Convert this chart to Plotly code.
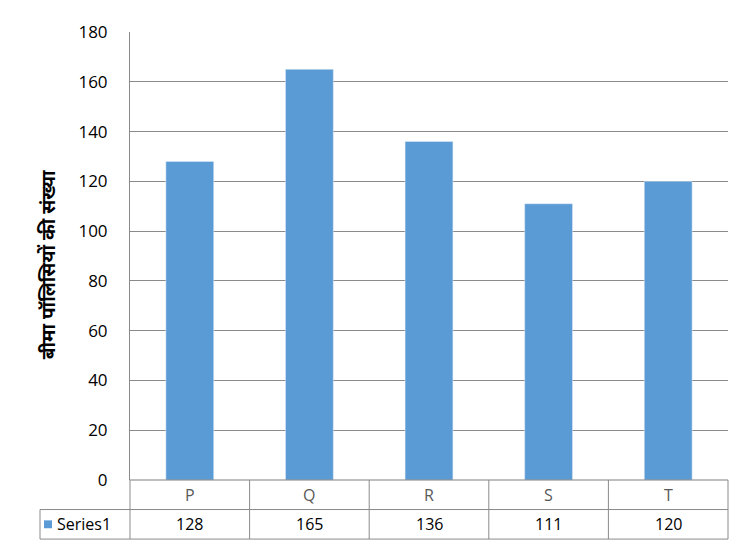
import plotly.graph_objects as go

categories = ["P", "Q", "R", "S", "T"]
values = [128, 165, 136, 111, 120]
series_name = "Series1"
y_title = "बीमा पॉलिसियों की संख्या"
y_ticks = [0, 20, 40, 60, 80, 100, 120, 140, 160, 180]

OFF = 8  # page body margin
W, H = 741 - OFF, 546 - OFF
L, R, T, B = 130 - OFF, 13, 25 - OFF, 66
pw, ph = W - L - R, H - T - B

def px_x(px):
    return (px - OFF - L) / pw

def px_y(py):
    return (H - B - (py - OFF)) / ph

bar_color = "#5B9BD5"
line_color = "#8a8a8a"
font_family = "Open Sans, Noto Sans, Noto Sans Devanagari, sans-serif"

fig = go.Figure()
fig.add_trace(go.Bar(x=categories, y=values, marker_color=bar_color, width=0.4, name=series_name))

n = len(categories)
y0 = 0.0
y1 = px_y(510)
y2 = px_y(540)
shapes = []
shapes.append(dict(type="line", xref="paper", yref="paper", x0=0, x1=1, y0=y0, y1=y0,
                   line=dict(color="#7f7f7f", width=1)))
for yy in (y1, y2):
    shapes.append(dict(type="line", xref="paper", yref="paper", x0=px_x(40), x1=1, y0=yy, y1=yy,
                       line=dict(color=line_color, width=1)))
for i in range(n + 1):
    xx = i / n
    shapes.append(dict(type="line", xref="paper", yref="paper", x0=xx, x1=xx, y0=y0, y1=y2,
                       line=dict(color=line_color, width=1)))
shapes.append(dict(type="line", xref="paper", yref="paper", x0=px_x(40), x1=px_x(40), y0=y1, y1=y2,
                   line=dict(color=line_color, width=1)))
shapes.append(dict(type="rect", xref="paper", yref="paper", x0=px_x(44), x1=px_x(52),
                   y0=px_y(529), y1=px_y(521), fillcolor=bar_color, line=dict(width=0)))

annotations = []
for i, (c, v) in enumerate(zip(categories, values)):
    xc = (i + 0.5) / n
    annotations.append(dict(x=xc, y=(y0 + y1) / 2, xref="paper", yref="paper", text=c,
                            xanchor="center", yanchor="middle", showarrow=False,
                            font=dict(size=16, color="#595959", family=font_family)))
    annotations.append(dict(x=xc, y=(y1 + y2) / 2, xref="paper", yref="paper", text=str(v),
                            xanchor="center", yanchor="middle", showarrow=False,
                            font=dict(size=16, color="#000000", family=font_family)))
annotations.append(dict(x=px_x(55), y=(y1 + y2) / 2, xref="paper", yref="paper", text=series_name,
                        xanchor="left", yanchor="middle", showarrow=False,
                        font=dict(size=16, color="#000000", family=font_family)))
annotations.append(dict(x=px_x(48), y=px_y(262), xref="paper", yref="paper",
                        text="<b>" + y_title + "</b>", textangle=-90, showarrow=False,
                        xanchor="center", yanchor="middle",
                        font=dict(size=19, color="#000000", family=font_family)))

fig.update_layout(
    width=W, height=H,
    margin=dict(l=L, r=R, t=T, b=B),
    paper_bgcolor="white", plot_bgcolor="white",
    showlegend=False,
    bargap=0.6,
    shapes=shapes,
    annotations=annotations,
    xaxis=dict(showticklabels=False, showgrid=False, zeroline=False, showline=False, ticks=""),
    yaxis=dict(range=[0, 180], tickvals=y_ticks, showgrid=True, gridcolor=line_color, gridwidth=1,
               zeroline=False, showline=True, linecolor=line_color, linewidth=1,
               ticks="", ticklabelstandoff=18,
               tickfont=dict(size=17, color="#000000", family=font_family)),
)

fig.write_html("out.html")
